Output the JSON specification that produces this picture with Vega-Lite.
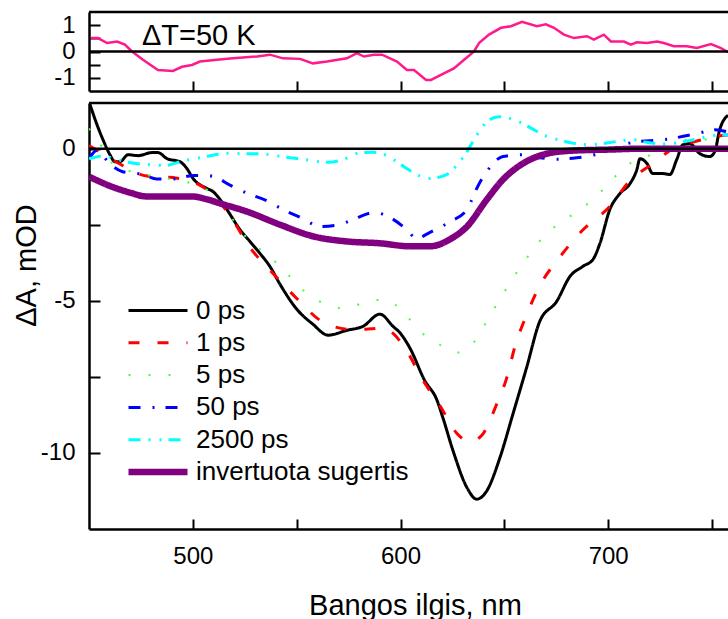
{
  "$schema": "https://vega.github.io/schema/vega-lite/v6.json",
  "padding": {"left": 12, "top": 10, "right": 0, "bottom": 0},
  "spacing": 9,
  "config": {
    "font": "Liberation Sans",
    "view": {"stroke": null},
    "axis": {"grid": false, "domainColor": "black", "tickColor": "black", "labelColor": "black", "titleColor": "black", "labelFont": "Liberation Sans", "titleFont": "Liberation Sans", "titleFontWeight": "normal", "domainWidth": 2.5, "tickWidth": 2, "labelOverlap": false, "labelFlush": false}
  },
  "resolve": {"scale": {"x": "independent", "y": "independent"}},
  "datasets": {
    "dt": [
      {"x":450.8,"y":0.51},{"x":454.3,"y":0.51},{"x":458.7,"y":0.32},{"x":463.5,"y":0.38},{"x":467.3,"y":0.26},{"x":470.7,"y":0},{"x":476,"y":-0.31},{"x":483.2,"y":-0.7},{"x":490.4,"y":-0.74},{"x":494.8,"y":-0.58},{"x":499.6,"y":-0.51},{"x":503.4,"y":-0.38},{"x":511.6,"y":-0.31},{"x":519.3,"y":-0.26},{"x":530.9,"y":-0.19},{"x":537.1,"y":-0.12},{"x":543.4,"y":-0.26},{"x":551.6,"y":-0.28},{"x":557.8,"y":-0.45},{"x":564.6,"y":-0.38},{"x":574.2,"y":-0.26},{"x":579,"y":-0.06},{"x":582.4,"y":-0.19},{"x":587.2,"y":-0.12},{"x":591.1,"y":-0.12},{"x":598.3,"y":-0.38},{"x":603.1,"y":-0.7},{"x":606.5,"y":-0.7},{"x":612.3,"y":-1.08},{"x":614.7,"y":-1.08},{"x":620.9,"y":-0.83},{"x":625.7,"y":-0.64},{"x":630.5,"y":-0.32},{"x":635.4,"y":0},{"x":637.8,"y":0.32},{"x":642.6,"y":0.64},{"x":648.4,"y":0.9},{"x":653.2,"y":0.96},{"x":658.5,"y":1.13},{"x":665.7,"y":0.96},{"x":670,"y":1.03},{"x":673.9,"y":0.9},{"x":678.7,"y":0.64},{"x":683.5,"y":0.51},{"x":689.8,"y":0.58},{"x":693.1,"y":0.45},{"x":697.9,"y":0.64},{"x":701.3,"y":0.38},{"x":707.6,"y":0.38},{"x":710.9,"y":0.26},{"x":713.8,"y":0.35},{"x":718.7,"y":0.32},{"x":723.5,"y":0.38},{"x":726.8,"y":0.32},{"x":731.6,"y":0.2},{"x":737.9,"y":0.2},{"x":742.7,"y":0.13},{"x":749.5,"y":0.28},{"x":754.3,"y":0.13},{"x":757.7,"y":-0.03}
    ],
    "spectra": [
      {"s":"0 ps","x":450,"y":1.55},{"s":"0 ps","x":454.5,"y":0.67},{"s":"0 ps","x":456.7,"y":0.3},{"s":"0 ps","x":460.1,"y":-0.2},{"s":"0 ps","x":462.5,"y":-0.43},{"s":"0 ps","x":464.9,"y":-0.43},{"s":"0 ps","x":468.8,"y":-0.2},{"s":"0 ps","x":473.6,"y":-0.23},{"s":"0 ps","x":480.3,"y":-0.13},{"s":"0 ps","x":483.2,"y":-0.13},{"s":"0 ps","x":487.6,"y":-0.33},{"s":"0 ps","x":493.8,"y":-0.43},{"s":"0 ps","x":497.2,"y":-0.66},{"s":"0 ps","x":500.1,"y":-0.98},{"s":"0 ps","x":506.8,"y":-1.31},{"s":"0 ps","x":509.7,"y":-1.41},{"s":"0 ps","x":513.1,"y":-1.67},{"s":"0 ps","x":516.4,"y":-2.0},{"s":"0 ps","x":522.7,"y":-2.66},{"s":"0 ps","x":527.5,"y":-3.05},{"s":"0 ps","x":532.3,"y":-3.44},{"s":"0 ps","x":537.1,"y":-3.87},{"s":"0 ps","x":542,"y":-4.46},{"s":"0 ps","x":550.1,"y":-5.28},{"s":"0 ps","x":557.8,"y":-5.77},{"s":"0 ps","x":565.1,"y":-6.13},{"s":"0 ps","x":574.2,"y":-5.97},{"s":"0 ps","x":581.9,"y":-5.84},{"s":"0 ps","x":590.1,"y":-5.44},{"s":"0 ps","x":596.4,"y":-5.84},{"s":"0 ps","x":599.7,"y":-6.05},{"s":"0 ps","x":604.5,"y":-6.55},{"s":"0 ps","x":611.8,"y":-7.64},{"s":"0 ps","x":617.4,"y":-8.24},{"s":"0 ps","x":620.4,"y":-8.84},{"s":"0 ps","x":625.3,"y":-9.93},{"s":"0 ps","x":632,"y":-11.14},{"s":"0 ps","x":636.7,"y":-11.52},{"s":"0 ps","x":641.5,"y":-11.25},{"s":"0 ps","x":647.9,"y":-10.15},{"s":"0 ps","x":654.1,"y":-8.73},{"s":"0 ps","x":660.7,"y":-7.2},{"s":"0 ps","x":667.1,"y":-5.67},{"s":"0 ps","x":675.2,"y":-5.02},{"s":"0 ps","x":681.6,"y":-4.2},{"s":"0 ps","x":687.8,"y":-3.87},{"s":"0 ps","x":692.7,"y":-3.64},{"s":"0 ps","x":696,"y":-3.12},{"s":"0 ps","x":700.8,"y":-2.0},{"s":"0 ps","x":705.6,"y":-1.48},{"s":"0 ps","x":710.5,"y":-1.15},{"s":"0 ps","x":713.8,"y":-0.69},{"s":"0 ps","x":715.3,"y":-0.33},{"s":"0 ps","x":718.7,"y":-0.49},{"s":"0 ps","x":721.5,"y":-0.82},{"s":"0 ps","x":726.3,"y":-0.82},{"s":"0 ps","x":729.7,"y":-0.85},{"s":"0 ps","x":733,"y":-0.36},{"s":"0 ps","x":736,"y":0.13},{"s":"0 ps","x":739.3,"y":0.16},{"s":"0 ps","x":744.1,"y":-0.16},{"s":"0 ps","x":748.9,"y":-0.26},{"s":"0 ps","x":751.3,"y":-0.1},{"s":"0 ps","x":753.7,"y":0.62},{"s":"0 ps","x":757.7,"y":1.1},
      {"s":"1 ps","x":450,"y":0.1},{"s":"1 ps","x":455,"y":-0.1},{"s":"1 ps","x":463.5,"y":-0.45},{"s":"1 ps","x":477.9,"y":-0.9},{"s":"1 ps","x":492.4,"y":-0.97},{"s":"1 ps","x":506.8,"y":-1.35},{"s":"1 ps","x":516.9,"y":-2.1},{"s":"1 ps","x":527.5,"y":-3.25},{"s":"1 ps","x":538.6,"y":-4.1},{"s":"1 ps","x":549.7,"y":-4.9},{"s":"1 ps","x":562.7,"y":-5.7},{"s":"1 ps","x":577.1,"y":-5.95},{"s":"1 ps","x":591.5,"y":-5.9},{"s":"1 ps","x":602.6,"y":-6.6},{"s":"1 ps","x":609.8,"y":-7.5},{"s":"1 ps","x":619,"y":-8.45},{"s":"1 ps","x":627.7,"y":-9.4},{"s":"1 ps","x":633.4,"y":-9.63},{"s":"1 ps","x":639.4,"y":-9.4},{"s":"1 ps","x":646,"y":-8.45},{"s":"1 ps","x":651.3,"y":-7.5},{"s":"1 ps","x":655.1,"y":-6.5},{"s":"1 ps","x":659.9,"y":-5.6},{"s":"1 ps","x":667.1,"y":-4.5},{"s":"1 ps","x":676.3,"y":-3.6},{"s":"1 ps","x":687.4,"y":-2.7},{"s":"1 ps","x":700.8,"y":-1.9},{"s":"1 ps","x":710.5,"y":-1.05},{"s":"1 ps","x":722.5,"y":-0.45},{"s":"1 ps","x":731,"y":0.0},{"s":"1 ps","x":742.7,"y":0.25},{"s":"1 ps","x":754.8,"y":0.43},{"s":"1 ps","x":757.7,"y":0.45},
      {"s":"5 ps","x":450,"y":0.66},{"s":"5 ps","x":455,"y":0.2},{"s":"5 ps","x":460,"y":-0.4},{"s":"5 ps","x":468,"y":-0.7},{"s":"5 ps","x":477,"y":-0.85},{"s":"5 ps","x":487.6,"y":-0.98},{"s":"5 ps","x":497,"y":-1.1},{"s":"5 ps","x":506.8,"y":-1.35},{"s":"5 ps","x":514.5,"y":-1.9},{"s":"5 ps","x":527.5,"y":-3.05},{"s":"5 ps","x":536.2,"y":-3.5},{"s":"5 ps","x":545.3,"y":-4.1},{"s":"5 ps","x":554,"y":-4.7},{"s":"5 ps","x":563.6,"y":-5.1},{"s":"5 ps","x":573.3,"y":-5.25},{"s":"5 ps","x":582.9,"y":-5.05},{"s":"5 ps","x":592.5,"y":-4.95},{"s":"5 ps","x":602.1,"y":-5.44},{"s":"5 ps","x":609.4,"y":-6.0},{"s":"5 ps","x":618.5,"y":-6.43},{"s":"5 ps","x":627.7,"y":-6.7},{"s":"5 ps","x":636.8,"y":-6.23},{"s":"5 ps","x":642.1,"y":-5.6},{"s":"5 ps","x":647.9,"y":-4.95},{"s":"5 ps","x":653.7,"y":-4.3},{"s":"5 ps","x":659,"y":-3.77},{"s":"5 ps","x":666.2,"y":-3.1},{"s":"5 ps","x":674.4,"y":-2.56},{"s":"5 ps","x":683,"y":-2.16},{"s":"5 ps","x":692.7,"y":-1.67},{"s":"5 ps","x":700.8,"y":-1.11},{"s":"5 ps","x":708.1,"y":-0.59},{"s":"5 ps","x":718.7,"y":-0.26},{"s":"5 ps","x":728.3,"y":0.07},{"s":"5 ps","x":740.3,"y":0.3},{"s":"5 ps","x":747.5,"y":0.3},{"s":"5 ps","x":757.7,"y":0.56},
      {"s":"50 ps","x":450,"y":-0.33},{"s":"50 ps","x":453.9,"y":-0.05},{"s":"50 ps","x":460,"y":-0.5},{"s":"50 ps","x":465.9,"y":-0.75},{"s":"50 ps","x":476,"y":-0.85},{"s":"50 ps","x":482.7,"y":-1.0},{"s":"50 ps","x":490,"y":-1.0},{"s":"50 ps","x":500.6,"y":-0.88},{"s":"50 ps","x":509.2,"y":-0.9},{"s":"50 ps","x":517.9,"y":-1.2},{"s":"50 ps","x":526.6,"y":-1.48},{"s":"50 ps","x":535.2,"y":-1.7},{"s":"50 ps","x":543.4,"y":-2.0},{"s":"50 ps","x":553,"y":-2.3},{"s":"50 ps","x":561.2,"y":-2.56},{"s":"50 ps","x":570.4,"y":-2.5},{"s":"50 ps","x":578.1,"y":-2.3},{"s":"50 ps","x":587.2,"y":-2.1},{"s":"50 ps","x":595.9,"y":-2.3},{"s":"50 ps","x":603.6,"y":-2.7},{"s":"50 ps","x":607.5,"y":-2.95},{"s":"50 ps","x":614.2,"y":-2.75},{"s":"50 ps","x":623.8,"y":-2.4},{"s":"50 ps","x":632,"y":-2.0},{"s":"50 ps","x":634.4,"y":-1.67},{"s":"50 ps","x":636.8,"y":-1.3},{"s":"50 ps","x":642.1,"y":-0.7},{"s":"50 ps","x":649.3,"y":-0.26},{"s":"50 ps","x":658.5,"y":-0.2},{"s":"50 ps","x":667.1,"y":-0.3},{"s":"50 ps","x":675.8,"y":-0.35},{"s":"50 ps","x":684.9,"y":-0.3},{"s":"50 ps","x":693.6,"y":-0.2},{"s":"50 ps","x":711.4,"y":0.2},{"s":"50 ps","x":727.3,"y":0.3},{"s":"50 ps","x":743.2,"y":0.5},{"s":"50 ps","x":751.4,"y":0.62},{"s":"50 ps","x":757.7,"y":0.55},
      {"s":"2500 ps","x":450,"y":-0.33},{"s":"2500 ps","x":456.3,"y":-0.25},{"s":"2500 ps","x":461,"y":-0.3},{"s":"2500 ps","x":468.8,"y":-0.45},{"s":"2500 ps","x":477.9,"y":-0.52},{"s":"2500 ps","x":486.6,"y":-0.55},{"s":"2500 ps","x":495.3,"y":-0.4},{"s":"2500 ps","x":503.4,"y":-0.3},{"s":"2500 ps","x":510.7,"y":-0.2},{"s":"2500 ps","x":516,"y":-0.15},{"s":"2500 ps","x":525.1,"y":-0.17},{"s":"2500 ps","x":533.3,"y":-0.17},{"s":"2500 ps","x":537.1,"y":-0.2},{"s":"2500 ps","x":546.8,"y":-0.3},{"s":"2500 ps","x":551.6,"y":-0.33},{"s":"2500 ps","x":559.3,"y":-0.42},{"s":"2500 ps","x":565.1,"y":-0.45},{"s":"2500 ps","x":574.7,"y":-0.3},{"s":"2500 ps","x":579.5,"y":-0.15},{"s":"2500 ps","x":586.7,"y":-0.12},{"s":"2500 ps","x":592.5,"y":-0.2},{"s":"2500 ps","x":600.7,"y":-0.55},{"s":"2500 ps","x":607,"y":-0.82},{"s":"2500 ps","x":613.2,"y":-0.98},{"s":"2500 ps","x":621.4,"y":-0.88},{"s":"2500 ps","x":627.7,"y":-0.5},{"s":"2500 ps","x":632,"y":-0.1},{"s":"2500 ps","x":636.3,"y":0.4},{"s":"2500 ps","x":641.6,"y":0.88},{"s":"2500 ps","x":647.4,"y":1.05},{"s":"2500 ps","x":655.6,"y":0.93},{"s":"2500 ps","x":663.3,"y":0.66},{"s":"2500 ps","x":668.6,"y":0.46},{"s":"2500 ps","x":676.8,"y":0.28},{"s":"2500 ps","x":690.3,"y":0.13},{"s":"2500 ps","x":705.7,"y":0.25},{"s":"2500 ps","x":711.4,"y":0.3},{"s":"2500 ps","x":719.1,"y":0.2},{"s":"2500 ps","x":727.3,"y":0.15},{"s":"2500 ps","x":740.3,"y":0.28},{"s":"2500 ps","x":753.8,"y":0.45},{"s":"2500 ps","x":757.7,"y":0.45},
      {"s":"invertuota sugertis","x":450,"y":-0.92},{"s":"invertuota sugertis","x":461,"y":-1.25},{"s":"invertuota sugertis","x":470,"y":-1.45},{"s":"invertuota sugertis","x":477.4,"y":-1.57},{"s":"invertuota sugertis","x":499.5,"y":-1.57},{"s":"invertuota sugertis","x":506,"y":-1.65},{"s":"invertuota sugertis","x":513.1,"y":-1.8},{"s":"invertuota sugertis","x":526.1,"y":-2.07},{"s":"invertuota sugertis","x":542,"y":-2.5},{"s":"invertuota sugertis","x":557.8,"y":-2.88},{"s":"invertuota sugertis","x":574.2,"y":-3.05},{"s":"invertuota sugertis","x":590.1,"y":-3.11},{"s":"invertuota sugertis","x":604.5,"y":-3.21},{"s":"invertuota sugertis","x":614.2,"y":-3.21},{"s":"invertuota sugertis","x":623.8,"y":-2.98},{"s":"invertuota sugertis","x":632,"y":-2.56},{"s":"invertuota sugertis","x":641.6,"y":-1.67},{"s":"invertuota sugertis","x":649.3,"y":-1.02},{"s":"invertuota sugertis","x":658.9,"y":-0.49},{"s":"invertuota sugertis","x":668.6,"y":-0.2},{"s":"invertuota sugertis","x":681.6,"y":-0.07},{"s":"invertuota sugertis","x":700.8,"y":-0.03},{"s":"invertuota sugertis","x":716.7,"y":0},{"s":"invertuota sugertis","x":757.7,"y":0}
    ]
  },
  "vconcat": [
    {
      "width": 639,
      "height": 79,
      "layer": [
        {
          "data": {"name": "dt"},
          "mark": {"type": "line", "color": "#ff1a8c", "strokeWidth": 2.5, "clip": true},
          "encoding": {
            "x": {"field": "x", "type": "quantitative", "scale": {"domain": [450, 757.7], "nice": false, "zero": false},
              "axis": {"values": [500, 550, 600, 650, 700, 750], "labels": false, "title": null, "tickSize": -10,
                "encode": {"ticks": {"update": {"y2": {"signal": "datum.value % 100 === 0 ? -10 : -4"}}}}}},
            "y": {"field": "y", "type": "quantitative", "scale": {"domain": [-1.5, 1.5], "nice": false, "zero": false},
              "axis": {"values": [-1, -0.5, 0, 0.5, 1], "labelExpr": "datum.value % 1 === 0 ? '' + datum.value : ''", "labelOverlap": false, "tickSize": -11, "labelPadding": 25, "labelFontSize": 24, "title": null,
                "encode": {"ticks": {"update": {"x2": {"signal": "datum.value % 1 === 0 ? 11 : 6"}}}}}}
          }
        },
        {
          "data": {"values": [{}]},
          "mark": {"type": "rule", "color": "black", "strokeWidth": 2.5},
          "encoding": {"y": {"datum": 0,
              "axis": {"values": [-1, -0.5, 0, 0.5, 1], "labelExpr": "datum.value % 1 === 0 ? '' + datum.value : ''", "labelOverlap": false, "tickSize": -11, "labelPadding": 25, "labelFontSize": 24, "title": null,
                "encode": {"ticks": {"update": {"x2": {"signal": "datum.value % 1 === 0 ? 11 : 6"}}}}}}}
        },
        {
          "data": {"values": [{}]},
          "mark": {"type": "rule", "color": "black", "strokeWidth": 2.5},
          "encoding": {"y": {"datum": 1.5,
              "axis": {"values": [-1, -0.5, 0, 0.5, 1], "labelExpr": "datum.value % 1 === 0 ? '' + datum.value : ''", "labelOverlap": false, "tickSize": -11, "labelPadding": 25, "labelFontSize": 24, "title": null,
                "encode": {"ticks": {"update": {"x2": {"signal": "datum.value % 1 === 0 ? 11 : 6"}}}}}}}
        },
        {
          "data": {"values": [{}]},
          "mark": {"type": "text", "text": "ΔT=50 K", "align": "left", "baseline": "alphabetic", "fontSize": 29, "font": "Liberation Sans", "color": "black"},
          "encoding": {
            "x": {"datum": 475.5,
              "axis": {"values": [500, 550, 600, 650, 700, 750], "labels": false, "title": null, "tickSize": -10,
                "encode": {"ticks": {"update": {"y2": {"signal": "datum.value % 100 === 0 ? -10 : -4"}}}}}},
            "y": {"datum": 0.26,
              "axis": {"values": [-1, -0.5, 0, 0.5, 1], "labelExpr": "datum.value % 1 === 0 ? '' + datum.value : ''", "labelOverlap": false, "tickSize": -11, "labelPadding": 25, "labelFontSize": 24, "title": null,
                "encode": {"ticks": {"update": {"x2": {"signal": "datum.value % 1 === 0 ? 11 : 6"}}}}}}
          }
        }
      ]
    },
    {
      "width": 639,
      "height": 426,
      "layer": [
        {
          "data": {"name": "spectra"},
          "mark": {"type": "line", "clip": true, "interpolate": "monotone", "strokeCap": "butt"},
          "encoding": {
            "x": {"field": "x", "type": "quantitative", "scale": {"domain": [450, 757.7], "nice": false, "zero": false},
              "axis": {"values": [500, 550, 600, 650, 700, 750], "labelExpr": "datum.value % 100 === 0 ? datum.label : ''", "labelOverlap": false, "tickSize": -10, "labelPadding": 25, "labelFontSize": 24,
                "title": "Bangos ilgis, nm", "titleFontSize": 29, "titleX": 326, "titleY": 85, "titleBaseline": "alphabetic", "titleAlign": "center",
                "encode": {"ticks": {"update": {"y2": {"signal": "datum.value % 100 === 0 ? -10 : -5"}}}}}},
            "y": {"field": "y", "type": "quantitative", "scale": {"domain": [-12.5, 1.5], "nice": false, "zero": false},
              "axis": {"values": [-10, -7.5, -5, -2.5, 0], "labelExpr": "datum.value === 0 ? '0' : (datum.value % 5 === 0 ? '' + datum.value : '')", "labelOverlap": false, "tickSize": -11, "labelPadding": 25, "labelFontSize": 24,
                "title": "ΔA, mOD", "titleFontSize": 29, "titleX": -48, "titleY": 162, "titleAngle": 270, "titleBaseline": "bottom", "titleAlign": "center",
                "encode": {"ticks": {"update": {"x2": {"signal": "datum.value % 5 === 0 ? 11 : 6"}}}}}},
            "color": {"field": "s", "type": "nominal",
              "scale": {"domain": ["0 ps", "1 ps", "5 ps", "50 ps", "2500 ps", "invertuota sugertis"], "range": ["#000000", "#ff0000", "#40ff40", "#0000ff", "#00ffff", "#800080"]},
              "legend": {"title": null, "orient": "none", "legendX": 36, "legendY": 285.5, "symbolType": "stroke", "symbolSize": 3481, "clipHeight": 26, "rowPadding": 6.3, "labelFontSize": 26, "labelFont": "Liberation Sans", "labelColor": "black", "labelOffset": 5, "padding": 0, "labelLimit": 500}},
            "strokeDash": {"field": "s", "type": "nominal",
              "scale": {"domain": ["0 ps", "1 ps", "5 ps", "50 ps", "2500 ps", "invertuota sugertis"], "range": [[1, 0], [11, 18], [2, 18], [12, 12, 2, 11], [12, 8, 2, 9, 2, 7], [1, 0]]},
              "legend": {"title": null, "orient": "none", "legendX": 36, "legendY": 285.5, "symbolType": "stroke", "symbolSize": 3481, "clipHeight": 26, "rowPadding": 6.3, "labelFontSize": 26, "labelFont": "Liberation Sans", "labelColor": "black", "labelOffset": 5, "padding": 0, "labelLimit": 500}},
            "strokeWidth": {"field": "s", "type": "ordinal",
              "scale": {"type": "ordinal", "domain": ["0 ps", "1 ps", "5 ps", "50 ps", "2500 ps", "invertuota sugertis"], "range": [3, 3, 2, 3, 3, 6.5]},
              "legend": {"title": null, "orient": "none", "legendX": 36, "legendY": 285.5, "symbolType": "stroke", "symbolSize": 3481, "clipHeight": 26, "rowPadding": 6.3, "labelFontSize": 26, "labelFont": "Liberation Sans", "labelColor": "black", "labelOffset": 5, "padding": 0, "labelLimit": 500}}
          }
        },
        {
          "data": {"values": [{}]},
          "mark": {"type": "rule", "color": "black", "strokeWidth": 2.5},
          "encoding": {"y": {"datum": 0, "title": "ΔA, mOD"}}
        },
        {
          "data": {"values": [{}]},
          "mark": {"type": "rule", "color": "black", "strokeWidth": 2.5},
          "encoding": {"y": {"datum": 1.5, "title": "ΔA, mOD"}}
        }
      ]
    }
  ]
}
